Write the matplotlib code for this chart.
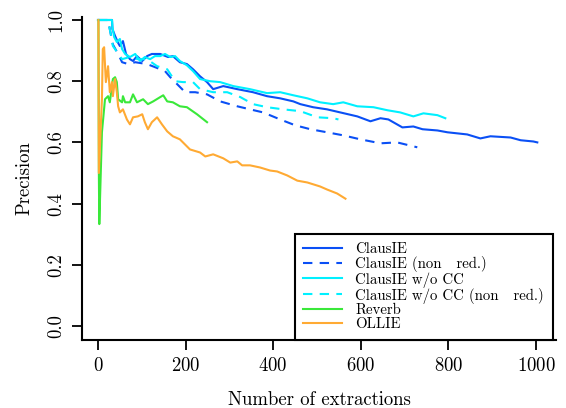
import matplotlib
matplotlib.use("Agg")
import matplotlib.pyplot as plt

plt.rcParams['font.family'] = ['cmr10', 'DejaVu Serif']
plt.rcParams['axes.formatter.use_mathtext'] = True

# ClausIE
cl_x = [0, 32, 33, 39, 46, 50, 57, 64, 73, 80, 89, 101, 112, 123, 142, 160, 171, 187, 203, 217,
        233, 249, 263, 286, 318, 354, 386, 416, 446, 462, 491, 523, 553, 592, 622, 645, 663, 695,
        720, 741, 775, 798, 843, 873, 896, 942, 965, 994, 1003]
cl_y = [1.0, 1.0, 0.97, 0.948, 0.925, 0.915, 0.931, 0.889, 0.872, 0.866, 0.882, 0.866, 0.882,
        0.889, 0.889, 0.879, 0.882, 0.862, 0.856, 0.839, 0.816, 0.797, 0.774, 0.784, 0.774, 0.764,
        0.751, 0.744, 0.734, 0.725, 0.715, 0.708, 0.698, 0.685, 0.669, 0.679, 0.675, 0.649, 0.652,
        0.643, 0.639, 0.633, 0.626, 0.613, 0.620, 0.616, 0.607, 0.603, 0.600]

# ClausIE (non red.)
clnr_x = [0, 23, 27, 34, 46, 55, 69, 85, 112, 130, 153, 165, 181, 199, 222, 249, 279, 318, 347,
          377, 416, 450, 485, 523, 560, 599, 645, 683, 720, 729]
clnr_y = [1.0, 1.0, 0.97, 0.92, 0.889, 0.862, 0.856, 0.862, 0.856, 0.846, 0.833, 0.813, 0.790,
          0.764, 0.764, 0.757, 0.734, 0.718, 0.708, 0.698, 0.675, 0.656, 0.643, 0.633, 0.623,
          0.610, 0.597, 0.600, 0.587, 0.584]

# ClausIE w/o CC
cc_x = [0, 32, 33, 37, 43, 50, 55, 62, 73, 85, 96, 107, 119, 130, 142, 153, 165, 176, 187, 203,
        217, 233, 256, 279, 309, 347, 386, 416, 446, 478, 507, 537, 560, 592, 629, 661, 690, 720,
        743, 775, 793]
cc_y = [1.0, 1.0, 0.977, 0.944, 0.928, 0.938, 0.905, 0.889, 0.879, 0.889, 0.866, 0.879, 0.872,
        0.882, 0.882, 0.889, 0.879, 0.882, 0.866, 0.852, 0.833, 0.807, 0.800, 0.797, 0.784, 0.774,
        0.761, 0.764, 0.754, 0.744, 0.731, 0.725, 0.731, 0.718, 0.715, 0.705, 0.698, 0.685, 0.695,
        0.689, 0.679]

# ClausIE w/o CC (non red.)
ccnr_x = [0, 23, 27, 34, 55, 73, 91, 112, 135, 158, 176, 194, 217, 233, 263, 295, 325, 354, 386,
          423, 462, 501, 537, 549]
ccnr_y = [1.0, 1.0, 0.97, 0.915, 0.872, 0.879, 0.872, 0.872, 0.849, 0.839, 0.800, 0.797, 0.797,
          0.774, 0.764, 0.764, 0.748, 0.725, 0.715, 0.708, 0.702, 0.682, 0.679, 0.675]

# Reverb
rv_x = [1, 2, 3, 9, 16, 23, 27, 32, 34, 39, 43, 46, 55, 57, 62, 73, 80, 89, 103, 114, 126, 142,
        149, 158, 171, 187, 203, 210, 226, 249]
rv_y = [1.0, 0.5, 0.333, 0.633, 0.741, 0.751, 0.731, 0.784, 0.807, 0.813, 0.797, 0.741, 0.731,
        0.751, 0.731, 0.731, 0.757, 0.731, 0.741, 0.725, 0.734, 0.748, 0.754, 0.734, 0.731, 0.718,
        0.715, 0.708, 0.692, 0.666]

# OLLIE
ol_x = [1, 2, 9, 11, 14, 18, 23, 27, 32, 34, 39, 43, 46, 50, 57, 66, 73, 80, 91, 101, 107, 114,
        123, 135, 146, 158, 171, 187, 210, 233, 245, 263, 286, 302, 318, 329, 347, 370, 393, 409,
        432, 455, 478, 507, 523, 546, 565]
ol_y = [1.0, 0.5, 0.741, 0.905, 0.911, 0.797, 0.849, 0.764, 0.797, 0.751, 0.807, 0.764, 0.718,
        0.698, 0.708, 0.675, 0.659, 0.682, 0.685, 0.692, 0.666, 0.643, 0.666, 0.682, 0.659, 0.636,
        0.620, 0.610, 0.577, 0.567, 0.554, 0.561, 0.548, 0.534, 0.538, 0.525, 0.525, 0.518, 0.508,
        0.505, 0.492, 0.475, 0.469, 0.456, 0.446, 0.433, 0.416]

blue = '#0a4ff5'
cyan = '#00f0ff'
green = '#3ae83a'
orange = '#ffaa33'

fig = plt.figure(figsize=(5.66, 4.08), dpi=100)
ax = fig.add_axes([82/566, 1 - 340/408, (556-82)/566, (340-17)/408])

lw = 1.5
ax.plot(cl_x, cl_y, color=blue, lw=lw, label='ClausIE')
ax.plot(clnr_x, clnr_y, color=blue, lw=lw, dashes=(4.5, 3.5), label='ClausIE (non   red.)')
ax.plot(cc_x, cc_y, color=cyan, lw=lw, label='ClausIE w/o CC')
ax.plot(ccnr_x, ccnr_y, color=cyan, lw=lw, dashes=(4.5, 3.5), label='ClausIE w/o CC (non   red.)')
ax.plot(rv_x, rv_y, color=green, lw=lw, label='Reverb')
ax.plot(ol_x, ol_y, color=orange, lw=lw, label='OLLIE')

ax.set_xlim(-36.5, 1045.7)
ax.set_ylim(-0.0458, 1.0098)
ax.set_xticks([0, 200, 400, 600, 800, 1000])
ax.set_yticks([0.0, 0.2, 0.4, 0.6, 0.8, 1.0])
ax.set_yticklabels(['0.0', '0.2', '0.4', '0.6', '0.8', '1.0'], rotation=90, va='center')

for s in ['top', 'right']:
    ax.spines[s].set_visible(False)
for s in ['left', 'bottom']:
    ax.spines[s].set_linewidth(1.5)
ax.tick_params(axis='both', length=7, width=1.3, labelsize=13.5, pad=5)

ax.set_xlabel('Number of extractions', fontsize=13.5, labelpad=12)
ax.set_ylabel('Precision', fontsize=13.5, labelpad=10)

leg = ax.legend(loc='lower right', bbox_to_anchor=(0.994, 0.0), fontsize=10.7,
                frameon=True, fancybox=False, edgecolor='black', framealpha=1,
                labelspacing=0.0, handlelength=2.6, handletextpad=0.9,
                borderpad=0.6, borderaxespad=0)
leg.get_frame().set_linewidth(1.5)

fig.savefig('out.png', dpi=100)
